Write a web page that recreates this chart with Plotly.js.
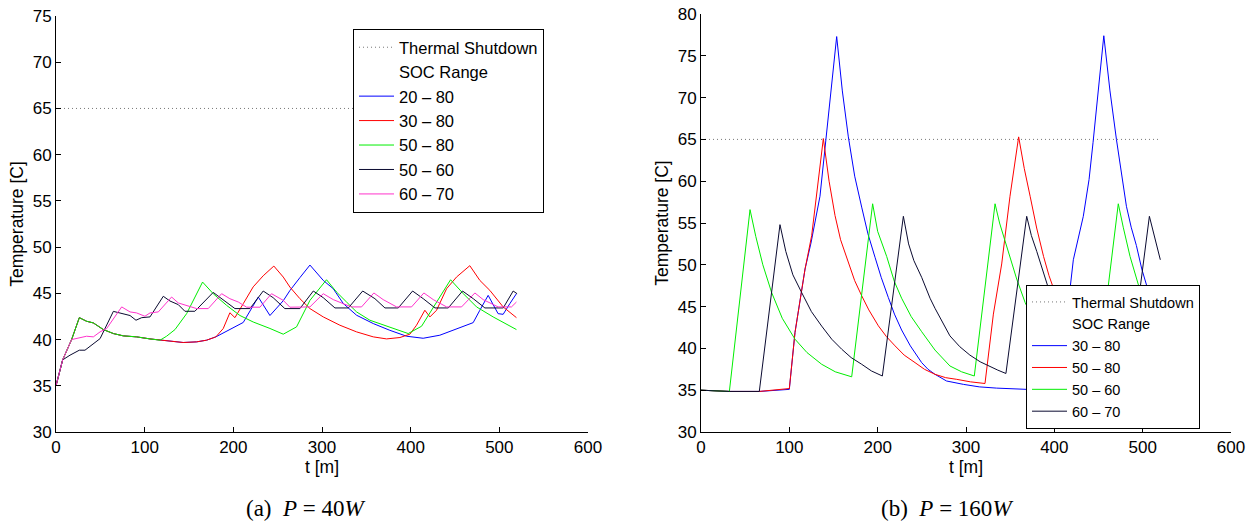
<!DOCTYPE html>
<html>
<head>
<meta charset="utf-8">
<script src="https://cdn.plot.ly/plotly-3.0.1.min.js"></script>
<style>html,body{margin:0;padding:0;background:#fff;}#chart{width:1257px;height:525px;}</style>
</head>
<body>
<div id="chart"></div>
<script>
// ---------- (a) P = 40W ----------
const L_2080_t = [0,7.5,17.6,26.3,34.5,42.1,53.4,64.7,75.9,90.9,106,117.3,128.5,143.5,158.6,169.8,180.3,211.2,228.1,241.3,256.3,263.8,275.1,286.4,301.4,312.7,324,339,357.8,376.5,395.4,414.1,432.9,451.7,470.5,478,487.4,498.6,504.3,511.8,519.3];
const L_2080_T = [35,37.8,40.0,42.37,41.98,41.8,41.08,40.65,40.4,40.29,40.07,39.93,39.82,39.68,39.75,39.93,40.29,41.85,44.6,42.6,44.2,45.3,46.7,48.06,46.4,45.5,43.9,42.63,41.73,41.0,40.36,40.14,40.47,41.19,41.83,43.17,44.78,42.8,42.73,43.88,44.96];

const L_3080_t = [0,7.5,17.6,26.3,34.5,42.1,53.4,64.7,75.9,90.9,106,117.3,128.5,143.5,158.6,169.8,180.3,188.6,196.1,201.8,211.2,222.4,233.7,245.7,256.3,263.8,275.1,286.4,301.4,320.2,339,357.8,372.8,387.9,399.1,406.6,416,421.7,429.2,440.5,451.7,466.7,478,489.3,504.3,519.3];
const L_3080_T = [35,37.8,40.0,42.37,41.98,41.8,41.08,40.65,40.4,40.29,40.07,39.93,39.82,39.68,39.75,39.93,40.29,41.19,42.9,42.37,43.88,45.7,46.9,47.95,46.76,45.68,44.42,43.35,42.45,41.55,40.83,40.29,40.07,40.22,40.58,41.55,43.17,42.45,43.17,45.5,46.76,47.99,46.4,45.32,43.53,42.37];

const L_5080_t = [0,7.5,17.6,26.3,34.5,42.1,53.4,64.7,75.9,90.9,106,117.3,124.7,134.2,147.3,165.3,177.3,192.4,207.5,222.4,241.3,256.3,271.3,286.4,305.1,316.4,327.7,339,354,376.5,397.2,412.3,425.5,445,459.4,474.3,493,519.3];
const L_5080_T = [35,37.8,40.0,42.37,41.98,41.8,41.08,40.65,40.4,40.29,40.07,39.93,40.36,41.08,42.8,46.22,44.96,43.7,42.6,41.9,41.2,40.58,41.37,44.24,46.47,45.14,44.06,42.99,42.09,41.37,40.65,41.44,43.53,46.47,44.96,43.53,42.45,41.08];

const L_5060_t = [0,7.5,15.8,26.3,32.7,42.1,49.7,64.7,74.1,83.5,90.2,96.7,106,121,128.5,137.9,145.4,156.6,177.3,188.6,201.8,218.7,233.7,244.9,258.1,275.1,290.2,301.4,314.6,329.7,345.9,359.7,371,386,402.2,414.2,427.4,442.4,458.5,470.6,483.7,504.4,515.6,520];
const L_5060_T = [35,37.8,38.31,38.85,38.85,39.57,40.1,43.05,42.8,42.6,42.09,42.37,42.45,44.68,44.17,43.78,43.06,43.06,45.1,44.32,43.35,43.35,45.25,44.53,43.35,43.35,45.25,44.53,43.42,43.42,45.25,44.42,43.42,43.42,45.25,44.42,43.42,43.42,45.25,44.42,43.42,43.42,45.25,44.96];

const L_6070_t = [0,7.5,17.6,25.2,34.5,42.1,49.7,57.1,74.1,83.5,90.9,100.3,106,115.4,130.4,137.9,147.3,158.6,171.7,186.8,196.1,205.6,215,230,243.1,256.3,263.8,286.4,301.4,312.7,324,333.4,344.6,358.5,369,384.1,401,414.9,425.5,434.8,440.5,457.4,472.4,481.8,491.1,498.6,513.7,519.3];
const L_6070_T = [35,37.8,40.0,40.18,40.36,40.29,40.83,41.19,43.53,42.99,42.88,42.52,42.88,42.99,44.6,43.96,43.7,43.35,43.35,44.96,44.42,44.06,43.5,43.5,44.96,44.24,43.5,43.53,44.96,44.32,43.88,43.53,43.53,45.04,44.32,43.53,43.53,45.04,44.32,43.88,43.53,43.53,45.04,44.32,43.88,43.53,43.53,44.06];

// ---------- (b) P = 160W ----------
const R_3080_t = [0,33,66,100,106.4,117.8,124.5,134.7,153.6,160,166.8,174,181.9,189,197,204,212,219,227.1,237,249.8,257,264.9,278,297,315,334.7,350,368.7,395,405,417,421.5,432.8,439.3,443.8,456,463,470.3,476,481.6,487,492.9,499,506.1,513,520];
const R_3080_T = [35,34.85,34.85,35.1,41.9,49.5,52.6,58.2,77.3,70.8,65.3,60.6,56.9,53.7,50.9,48.5,46.1,44.1,42.2,40.3,38.3,37.5,36.9,36.1,35.7,35.4,35.25,35.15,35.1,35.0,40,46.4,50.6,55.8,60.2,64.6,77.4,70.8,65.0,60.8,57.0,54.5,52.3,49.5,46.8,44.5,42.5];

const R_5080_t = [0,33,66,100,106.4,117.8,125.3,138.5,145,151.7,158,166.8,174,181.9,190,200.8,210,219.7,230,242.3,253,264.9,277,289.5,305,321.5,331,340.4,349.8,359.6,366,372.6,380,387.8,394,401,411,421.9,431,440.8,452,463.4,475,486,500,520];
const R_5080_T = [35,34.85,34.85,35.2,41.9,49.5,53.5,65.1,60.0,55.9,53.0,50.3,48.1,46.3,44.6,42.7,41.4,40.3,39.2,38.3,37.5,36.9,36.5,36.3,36.0,35.8,44.1,50.1,58.2,65.3,61.5,58.2,54.4,51.0,48.7,46.6,44.4,42.7,41.4,40.3,39.2,38.3,37.5,36.9,36.5,36.2];

const R_5060_t = [0,32.1,55.5,62,70,80,92,106.4,120,136.6,152,170.6,194.3,200,210.2,218.9,227.1,238,249.8,264.9,281.8,295,309.4,332.9,338,346.1,357.4,366.9,378,388.4,403.5,420.4,434,448.5,460.3,472.4,478,485.7,498.8,510,520];
const R_5060_T = [35,34.85,56.6,53.4,50.0,46.67,43.6,41.1,39.5,38.1,37.2,36.6,57.3,54.0,51.0,48.0,46.0,43.8,42.0,39.8,37.9,37.2,36.7,57.3,55.0,52.3,48.3,45.5,43.0,41.3,39.3,37.8,37.1,36.6,46.7,57.3,54.5,51.0,46.3,43.5,41.8];

const R_6070_t = [0,32,66,89.4,96,104,114,125,136.6,148,159.3,170,181.9,193,205.3,229.1,235,241,249.8,259.3,264.9,281.8,293,304.4,316,327.1,336,345.2,368.7,374,380.1,393.3,404.5,421.4,432,444,455,466.7,476,484.7,507.6,514,520];
const R_6070_T = [35,34.85,34.85,54.8,51.6,48.8,46.67,44.4,42.67,41.1,39.9,38.9,38.1,37.3,36.7,55.8,52.5,50.5,48.5,46.0,44.8,41.5,40.2,39.2,38.4,37.8,37.4,37.0,55.8,53.5,51.6,47.2,44.7,41.5,40.2,39.2,38.4,37.8,37.4,37.0,55.8,53.0,50.6];

// thermal shutdown threshold
const shutdown_t = [0, 520];
const shutdown_T = [65, 65];

const xTicks = [0,100,200,300,400,500,600];
const yTicksA = [30,35,40,45,50,55,60,65,70,75];
const yTicksB = [30,35,40,45,50,55,60,65,70,75,80];

const namesA = ['20 \u2013 80','30 \u2013 80','50 \u2013 80','50 \u2013 60','60 \u2013 70'];
const namesB = ['30 \u2013 80','50 \u2013 80','50 \u2013 60','60 \u2013 70'];
const colorsA = ['#0000ff','#ff0000','#00ee00','#0a0a30','#ff33cc'];
const colorsB = ['#0000ff','#ff0000','#00ee00','#0a0a30'];

const W = 1257, H = 525;
const FONT = 'Liberation Sans, Arial, Helvetica, sans-serif';

function line(x, y, name, color, xa, ya, leg, dash) {
  return {x: x, y: y, name: name, type: 'scatter', mode: 'lines',
    line: {color: color, width: 1, dash: dash || 'solid'},
    xaxis: xa, yaxis: ya, legend: leg, showlegend: true, hoverinfo: 'skip'};
}

const traces = [];
// panel (a)
traces.push(line(shutdown_t, shutdown_T, 'Thermal Shutdown', '#777777', 'x', 'y', 'legend', '1px,3px'));
traces.push(line([null], [null], 'SOC Range', 'rgba(0,0,0,0)', 'x', 'y', 'legend'));
[[L_2080_t,L_2080_T],[L_3080_t,L_3080_T],[L_5080_t,L_5080_T],[L_5060_t,L_5060_T],[L_6070_t,L_6070_T]].forEach((s,i)=>{
  traces.push(line(s[0], s[1], namesA[i], colorsA[i], 'x', 'y', 'legend'));
});
// panel (b)
traces.push(line(shutdown_t, shutdown_T, 'Thermal Shutdown', '#777777', 'x2', 'y2', 'legend2', '1px,3px'));
traces.push(line([null], [null], 'SOC Range', 'rgba(0,0,0,0)', 'x2', 'y2', 'legend2'));
[[R_3080_t,R_3080_T],[R_5080_t,R_5080_T],[R_5060_t,R_5060_T],[R_6070_t,R_6070_T]].forEach((s,i)=>{
  traces.push(line(s[0], s[1], namesB[i], colorsB[i], 'x2', 'y2', 'legend2'));
});

function xax(dom, anchor) {
  return {domain: dom, anchor: anchor, range: [0, 600], tickvals: xTicks,
    ticks: 'inside', ticklen: 5, tickcolor: '#000', showline: true, linecolor: '#000', linewidth: 1,
    showgrid: false, zeroline: false, mirror: false,
    tickfont: {family: FONT, size: 17, color: '#000'},
    title: {text: 't [m]', font: {family: FONT, size: 17.5, color: '#000'}, standoff: 3}};
}
function yax(dom, anchor, rng, tv) {
  return {domain: dom, anchor: anchor, range: rng, tickvals: tv,
    ticks: 'inside', ticklen: 5, tickcolor: '#000', showline: true, linecolor: '#000', linewidth: 1,
    showgrid: false, zeroline: false, mirror: false,
    tickfont: {family: FONT, size: 17, color: '#000'},
    title: {text: 'Temperature [C]', font: {family: FONT, size: 17.5, color: '#000'}, standoff: 4}};
}

const layout = {
  width: W, height: H,
  margin: {l: 0, r: 0, t: 0, b: 0},
  paper_bgcolor: '#fff', plot_bgcolor: '#fff',
  font: {family: FONT, color: '#000'},
  xaxis: xax([56/W, 588/W], 'y'),
  yaxis: yax([1-432/H, 1-16/H], 'x', [30, 75], yTicksA),
  xaxis2: xax([701/W, 1231/W], 'y2'),
  yaxis2: yax([1-432/H, 1-14/H], 'x2', [30, 80], yTicksB),
  legend: {x: 353/W, y: 1-29/H, xanchor: 'left', yanchor: 'top',
    bgcolor: '#fff', bordercolor: '#000', borderwidth: 1, itemwidth: 35,
    entrywidth: 165, entrywidthmode: 'pixels',
    font: {family: FONT, size: 16.5, color: '#000'}, tracegroupgap: 0},
  legend2: {x: 1026/W, y: 1-429/H, xanchor: 'left', yanchor: 'bottom',
    bgcolor: '#fff', bordercolor: '#000', borderwidth: 1, itemwidth: 35,
    entrywidth: 155, entrywidthmode: 'pixels',
    font: {family: FONT, size: 14.5, color: '#000'}, tracegroupgap: 0},
  annotations: [
    {text: '(a)&nbsp;&nbsp;<i>P</i>&nbsp;=&nbsp;40<i>W</i>', xref: 'paper', yref: 'paper', x: 306/W, y: 1-508/H,
     xanchor: 'center', yanchor: 'middle', showarrow: false,
     font: {family: 'Liberation Serif, DejaVu Serif, serif', size: 23, color: '#000'}},
    {text: '(b)&nbsp;&nbsp;<i>P</i>&nbsp;=&nbsp;160<i>W</i>', xref: 'paper', yref: 'paper', x: 947/W, y: 1-508/H,
     xanchor: 'center', yanchor: 'middle', showarrow: false,
     font: {family: 'Liberation Serif, DejaVu Serif, serif', size: 23, color: '#000'}}
  ],
  showlegend: true
};

Plotly.newPlot('chart', traces, layout, {staticPlot: true, displayModeBar: false});
</script>
</body>
</html>
